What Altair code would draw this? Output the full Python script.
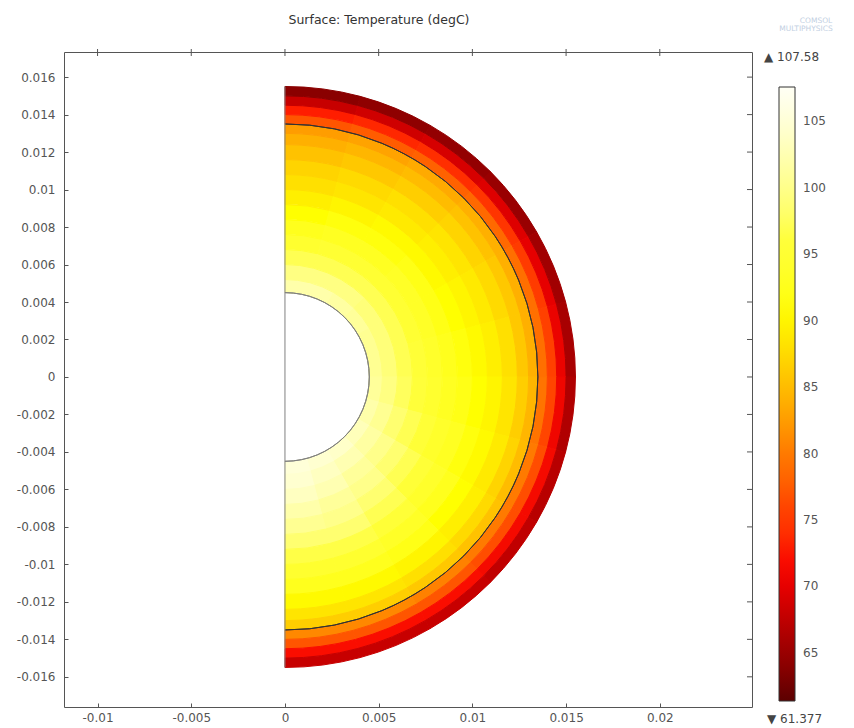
import altair as alt
import pandas as pd

# ---------------- data ----------------
# angular sectors (degrees, clockwise from the top; right half of the section)
angle_edges = [0, 15, 30, 45, 60, 75, 90, 105, 120, 135, 150, 165, 180]
# radial bands (m)
radius_edges = [0.0045, 0.0052, 0.0060, 0.0068, 0.0076, 0.0084, 0.0092, 0.0100,
                0.0108, 0.0116, 0.0124, 0.0130, 0.0135, 0.0140, 0.0145, 0.0150, 0.0155]
# temperature (degC): one row per sector (top -> bottom), one column per band (inner -> outer)
temp_s01 = [102.0, 99.5, 97.0, 94.5, 92.5, 91.0, 89.5, 88.0, 87.0, 85.5, 84.0, 82.5, 77.0, 73.0, 68.0, 64.0]
temp_s02 = [102.0, 99.5, 97.0, 95.0, 93.0, 91.5, 90.0, 88.5, 87.5, 86.0, 84.5, 83.0, 77.5, 73.5, 68.5, 64.3]
temp_s03 = [101.5, 99.5, 97.0, 95.0, 93.0, 91.5, 90.5, 89.0, 88.0, 86.5, 85.0, 83.5, 78.0, 74.0, 69.0, 64.6]
temp_s04 = [101.0, 99.0, 97.0, 95.0, 93.5, 92.0, 90.5, 89.5, 88.5, 87.0, 85.5, 84.0, 78.5, 74.5, 69.5, 65.0]
temp_s05 = [100.5, 99.0, 97.0, 95.0, 93.5, 92.0, 91.0, 90.0, 89.0, 87.5, 86.0, 84.0, 79.0, 75.0, 70.0, 65.5]
temp_s06 = [100.5, 99.0, 97.0, 95.5, 94.0, 92.5, 91.5, 90.5, 89.5, 88.0, 86.0, 84.0, 79.0, 75.5, 70.5, 66.0]
temp_s07 = [101.0, 99.5, 97.5, 96.0, 94.5, 93.0, 92.0, 91.0, 90.0, 88.5, 86.5, 84.5, 79.5, 76.0, 71.0, 66.5]
temp_s08 = [102.0, 100.5, 98.5, 97.0, 95.5, 94.0, 93.0, 91.5, 90.5, 89.0, 87.0, 85.0, 80.0, 76.5, 71.5, 67.0]
temp_s09 = [103.0, 101.5, 100.0, 98.5, 97.0, 95.5, 94.0, 92.5, 91.0, 89.5, 87.5, 85.5, 80.0, 76.5, 71.5, 67.5]
temp_s10 = [104.0, 102.5, 101.0, 100.0, 98.5, 97.0, 95.5, 93.5, 92.0, 90.0, 88.0, 86.0, 80.5, 77.0, 72.0, 68.0]
temp_s11 = [104.5, 103.5, 102.5, 101.0, 100.0, 98.5, 96.5, 94.5, 92.5, 90.5, 88.5, 86.5, 81.0, 77.0, 72.0, 68.0]
temp_s12 = [105.0, 104.5, 103.5, 102.0, 100.5, 98.5, 96.5, 94.5, 92.5, 90.5, 88.5, 86.5, 81.0, 77.0, 72.0, 68.0]
temperature = [temp_s01, temp_s02, temp_s03, temp_s04, temp_s05, temp_s06,
               temp_s07, temp_s08, temp_s09, temp_s10, temp_s11, temp_s12]

boundary_radii = [0.0045, 0.0135]
boundary_colors = ["#808080", "#333333"]
symmetry_line = [-0.0155, 0.0155]

legend_values = [65, 70, 75, 80, 85, 90, 95, 100, 105]
x_ticks = [-0.01, -0.005, 0, 0.005, 0.01, 0.015, 0.02]
y_ticks = [-0.016, -0.014, -0.012, -0.01, -0.008, -0.006, -0.004, -0.002, 0,
           0.002, 0.004, 0.006, 0.008, 0.01, 0.012, 0.014, 0.016]

# colormap (ThermalLight-like)
cmap_T = [61.377, 64, 67, 70, 72.5, 76, 80, 84, 88, 91, 96, 101, 105, 107.58]
cmap_c = ["#5c0000", "#8a0000", "#b80000", "#e60000", "#ff1000", "#ff4500", "#ff7a00",
          "#ffb000", "#ffe000", "#ffff00", "#ffff3a", "#ffff9a", "#ffffd8", "#fffff5"]

# ---------------- tables ----------------
rows = []
for i in range(len(angle_edges) - 1):
    for j in range(len(radius_edges) - 1):
        rows.append({"cx": 0.0, "cy": 0.0,
                     "a0": angle_edges[i], "a1": angle_edges[i + 1],
                     "r0": radius_edges[j], "r1": radius_edges[j + 1],
                     "T": temperature[i][j]})
cells = pd.DataFrame(rows)
bounds = pd.DataFrame({"cx": 0.0, "cy": 0.0, "a0": 0, "a1": 180,
                       "r": boundary_radii, "c": boundary_colors})
sym = pd.DataFrame({"x": [0.0], "y": [symmetry_line[0]], "y2": [symmetry_line[1]]})
xt = pd.DataFrame({"xv": x_ticks})
yt = pd.DataFrame({"yv": y_ticks})

XDOM = [-0.01179, 0.02492]
YDOM = [-0.01761, 0.01734]
W, H = 688, 655
R_PX = 0.0155 * W / (XDOM[1] - XDOM[0])

xs = alt.Scale(domain=XDOM, nice=False, zero=False)
ys = alt.Scale(domain=YDOM, nice=False, zero=False)
ts = alt.Scale(domain=[0, 360], range=[0, 6.283185307])
rs = alt.Scale(type="linear", domain=[0, 0.0155], range=[0, R_PX], zero=True)
cs = alt.Scale(type="linear", domain=cmap_T, range=cmap_c, clamp=True)

lab = "'' + datum.value"
axis_common = dict(grid=False, domain=False, tickColor="#555", tickSize=4, offset=-4,
                   labelFont="DejaVu Sans", labelFontSize=12, labelColor="#555",
                   title=None, labelExpr=lab)
x_axis_bottom = alt.Axis(orient="bottom", values=x_ticks, labelPadding=5, **axis_common)
y_axis_left = alt.Axis(orient="left", values=y_ticks, labelPadding=9, **axis_common)

def arc_enc(xaxis=None, yaxis=None):
    return dict(
        x=alt.X("cx:Q", scale=xs, axis=xaxis),
        y=alt.Y("cy:Q", scale=ys, axis=yaxis),
        theta=alt.Theta("a0:Q", scale=ts, stack=False),
        theta2="a1:Q",
    )

# each cell is also outlined in its own colour, which hides anti-aliasing seams
field = alt.Chart(cells).mark_arc(
    strokeWidth=1.0, stroke=alt.ExprRef("scale('fill', datum.T)")
).encode(
    radius=alt.Radius("r1:Q", scale=rs, stack=False),
    radius2="r0:Q",
    fill=alt.Fill("T:Q", scale=cs, legend=alt.Legend(
        orient="none", legendX=715, legendY=35, direction="vertical", type="gradient",
        gradientLength=614, gradientThickness=16, values=legend_values, title=None,
        labelFont="DejaVu Sans", labelFontSize=12, labelColor="#555", labelOffset=8,
        gradientStrokeColor="#333", gradientStrokeWidth=1)),
    **arc_enc(x_axis_bottom, y_axis_left),
)

rings = alt.Chart(bounds).mark_arc(filled=False, strokeWidth=1).encode(
    radius=alt.Radius("r:Q", scale=rs, stack=False),
    radius2="r:Q",
    stroke=alt.Stroke("c:N", scale=None, legend=None),
    **arc_enc(),
)

axis_line = alt.Chart(sym).mark_rule(color="#808080", strokeWidth=1).encode(
    x=alt.X("x:Q", scale=xs, axis=None), y=alt.Y("y:Q", scale=ys, axis=None), y2="y2:Q")

top_ticks = alt.Chart(xt).mark_rule(color="#555", strokeWidth=1).encode(
    x=alt.X("xv:Q", scale=xs, axis=None), y=alt.value(-3), y2=alt.value(4))
right_ticks = alt.Chart(yt).mark_rule(color="#555", strokeWidth=1).encode(
    y=alt.Y("yv:Q", scale=ys, axis=None), x=alt.value(W - 5), x2=alt.value(W))

def label(txt, px, py, size=10, color="#333", align="center"):
    return alt.Chart(pd.DataFrame({"t": [txt]})).mark_text(
        font="DejaVu Sans", fontSize=size, color=color, align=align, baseline="middle"
    ).encode(text="t:N", x=alt.value(px), y=alt.value(py))

title = label("Surface: Temperature (degC)", 315, -32, size=12.5, color="#333")
tmax = label("\u25b2 107.58", 700, 5, size=12, color="#444", align="left")
tmin = label("\u25bc 61.377", 703, 667, size=12, color="#444", align="left")
logo1 = label("COMSOL", 752, -31, size=7.5, color="#c2cfe2")
logo2 = label("MULTIPHYSICS", 742, -23, size=7.5, color="#c2cfe2")

chart = alt.layer(field, rings, axis_line, top_ticks, right_ticks,
                  title, tmax, tmin, logo1, logo2).resolve_axis(
    x="independent", y="independent"
).properties(
    width=W, height=H,
    autosize=alt.AutoSizeParams(type="none"),
    padding={"left": 56, "top": 44, "right": 94, "bottom": 21},
).configure_view(stroke="#555", strokeWidth=1)

chart.save("out.html", embed_options={"renderer": "svg", "actions": False})
